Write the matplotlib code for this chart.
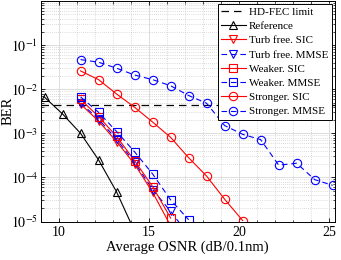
import matplotlib
matplotlib.use("Agg")
import matplotlib.pyplot as plt
import numpy as np
from matplotlib.ticker import AutoMinorLocator, LogLocator

plt.rcParams['font.family'] = ['Liberation Serif', 'DejaVu Serif']
plt.rcParams['mathtext.fontset'] = 'stix'

# Data
hdfec = 4.5e-3
ref_x = [9.2, 10.2, 11.2, 12.2, 13.2, 14.2]
ref_y = [6.6e-3, 2.75e-3, 1.0e-3, 2.5e-4, 4.7e-5, 6e-6]

tf_sic_x = [11.2, 12.2, 13.2, 14.2, 15.2, 16.2]
tf_sic_y = [4.6e-3, 1.9e-3, 6.5e-4, 2.0e-4, 4.6e-5, 8e-6]

tf_mmse_x = [11.2, 12.2, 13.2, 14.2, 15.2, 16.2, 17.2]
tf_mmse_y = [4.9e-3, 2.1e-3, 7.3e-4, 2.2e-4, 5.3e-5, 1.7e-5, 5e-6]

wk_sic_x = [11.2, 12.2, 13.2, 14.2, 15.2, 16.2]
wk_sic_y = [5.9e-3, 2.4e-3, 8.5e-4, 2.4e-4, 6.2e-5, 1.2e-5]

wk_mmse_x = [11.2, 12.2, 13.2, 14.2, 15.2, 16.2, 17.2]
wk_mmse_y = [6.7e-3, 3.0e-3, 1.1e-3, 3.8e-4, 1.2e-4, 3.1e-5, 1.1e-5]

st_sic_x = [11.2, 12.2, 13.2, 14.2, 15.2, 16.2, 17.2, 18.2, 19.2, 20.2]
st_sic_y = [2.6e-2, 1.65e-2, 7.8e-3, 3.9e-3, 1.8e-3, 8.1e-4, 2.8e-4, 1.07e-4, 3.2e-5, 1.05e-5]

st_mmse_x = [11.2, 12.2, 13.2, 14.2, 15.2, 16.2, 17.2, 18.2, 19.2, 20.2,
             21.2, 22.2, 23.2, 24.2, 25.2]
st_mmse_y = [4.7e-2, 4.1e-2, 3.0e-2, 2.1e-2, 1.65e-2, 1.2e-2, 7.2e-3, 4.8e-3,
             1.5e-3, 9.5e-4, 7.2e-4, 1.9e-4, 2.1e-4, 8.9e-5, 6.6e-5]

xticks = [10, 15, 20, 25]
yticks = [1e-5, 1e-4, 1e-3, 1e-2, 1e-1]
ytick_labels = [r'$10^{-5}$', r'$10^{-4}$', r'$10^{-3}$', r'$10^{-2}$', r'$10^{-1}$']

fig = plt.figure(figsize=(3.41, 2.6), dpi=100)
ax = fig.add_axes([0.12, 0.148, 0.861, 0.848])

red = '#ff0000'
blue = '#0000ff'
lw = 0.8
ms = 6
dash = (0, (5, 3.5))

ax.axhline(hdfec, color='k', lw=0.9, ls=(0, (6, 4)), label='HD-FEC limit')
ax.plot(ref_x, ref_y, color='k', lw=lw, marker='^', ms=ms, mfc='none', mew=0.8, label='Reference')
ax.plot(tf_sic_x, tf_sic_y, color=red, lw=lw, marker='v', ms=ms, mfc='none', mew=0.8, label='Turb free. SIC')
ax.plot(tf_mmse_x, tf_mmse_y, color=blue, lw=lw, ls=dash, marker='v', ms=ms, mfc='none', mew=0.8, label='Turb free. MMSE')
ax.plot(wk_sic_x, wk_sic_y, color=red, lw=lw, marker='s', ms=5.5, mfc='none', mew=0.8, label='Weaker. SIC')
ax.plot(wk_mmse_x, wk_mmse_y, color=blue, lw=lw, ls=dash, marker='s', ms=5.5, mfc='none', mew=0.8, label='Weaker. MMSE')
ax.plot(st_sic_x, st_sic_y, color=red, lw=lw, marker='o', ms=ms, mfc='none', mew=0.8, label='Stronger. SIC')
ax.plot(st_mmse_x, st_mmse_y, color=blue, lw=lw, ls=dash, marker='o', ms=ms, mfc='none', mew=0.8, label='Stronger. MMSE')

ax.set_yscale('log')
ax.set_ylim(1e-5, 1)
ax.set_xlim(9, 25.3)
ax.set_xticks(xticks)
ax.set_yticks(yticks)
ax.set_yticklabels(ytick_labels)
ax.tick_params(axis='both', which='both', direction='in', top=True, right=True, labelsize=10)
ax.tick_params(which='major', length=3, width=0.6)
ax.tick_params(axis='y', which='major', pad=2)
ax.tick_params(which='minor', length=1.8, width=0.5)
ax.xaxis.set_minor_locator(AutoMinorLocator(5))
ax.yaxis.set_minor_locator(LogLocator(base=10, subs=np.arange(2, 10)))
ax.grid(True, which='major', color='#dddddd', lw=0.7, ls='-')
ax.grid(True, which='minor', color='#bbbbbb', lw=0.5, ls=(0, (1, 2)))
ax.set_axisbelow(True)
for s in ax.spines.values():
    s.set_linewidth(0.7)

ax.set_xlabel('Average OSNR (dB/0.1nm)', fontsize=10.5, labelpad=1)
ax.set_ylabel('BER', fontsize=10.5)
ax.yaxis.set_label_coords(-0.09, 0.5)

leg = ax.legend(loc='upper right', fontsize=8, frameon=True, fancybox=False,
                edgecolor='k', framealpha=1, borderpad=0.3, labelspacing=0.4,
                handlelength=2.2, handletextpad=0.3, borderaxespad=0.25)
leg.get_frame().set_linewidth(0.7)

fig.savefig('out.png', dpi=100)
